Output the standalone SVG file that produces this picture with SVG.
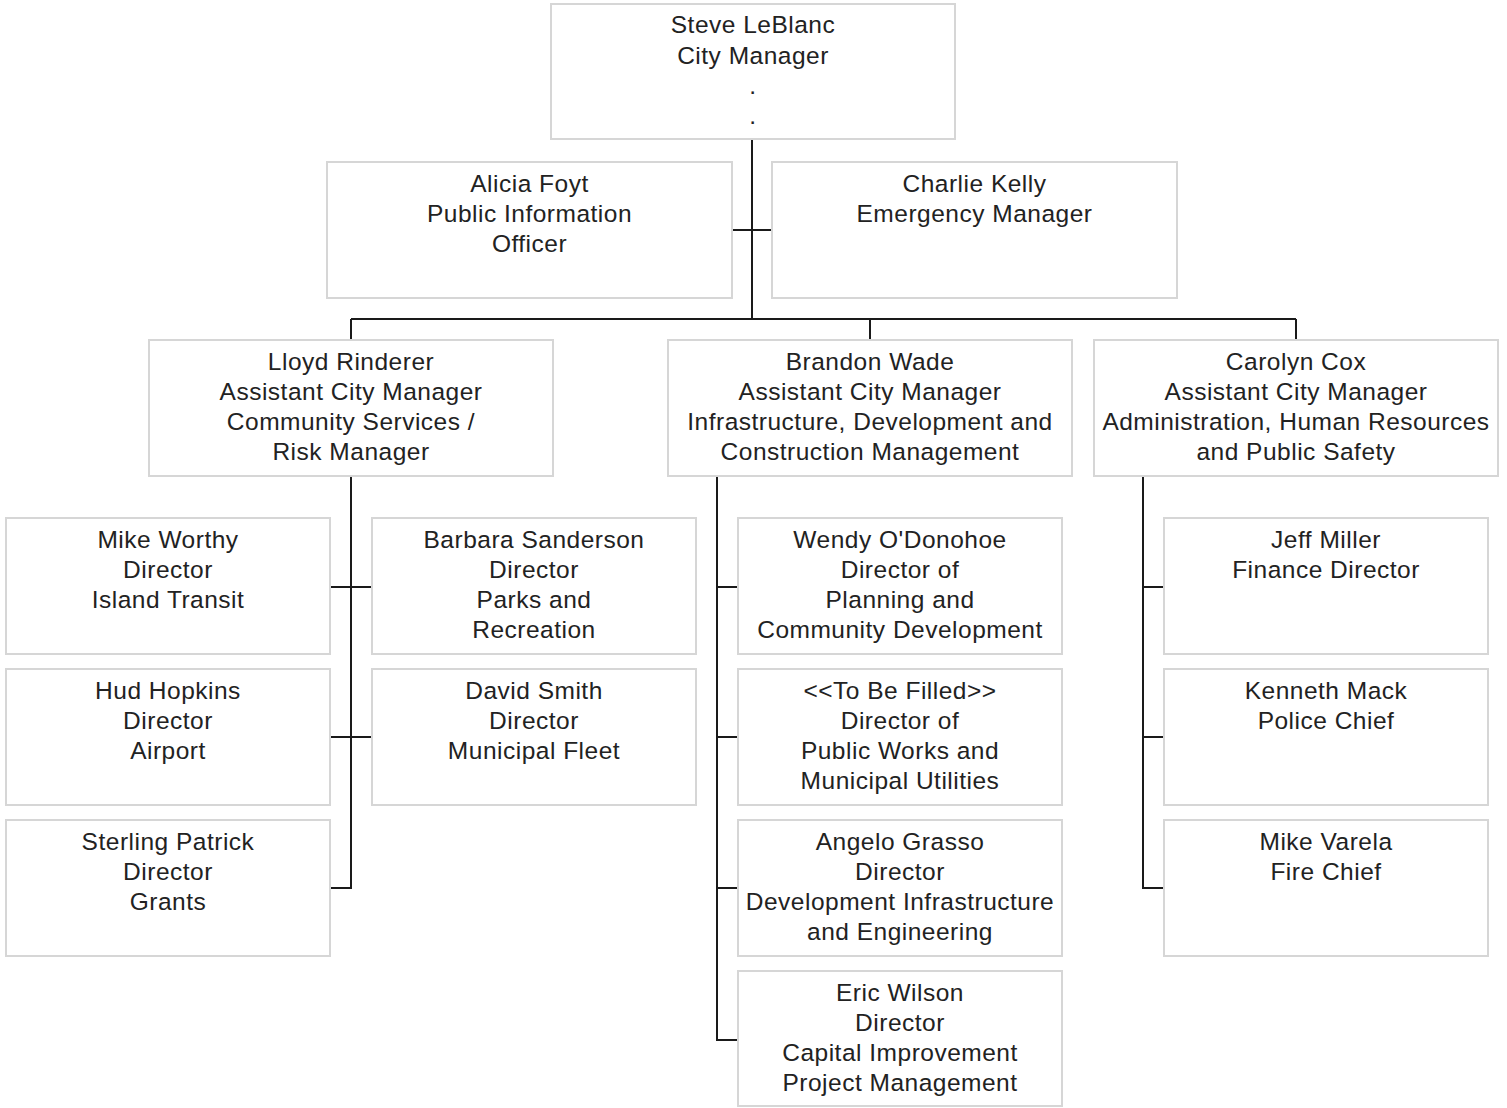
<svg xmlns="http://www.w3.org/2000/svg" width="1507" height="1108" viewBox="0 0 1507 1108">
<style>
.box{fill:#fff;stroke:#d6d6d6;stroke-width:2}
.t{font-family:"Liberation Sans",Arial,sans-serif;font-size:24.5px;letter-spacing:0.5px;fill:#222;text-anchor:middle}
.c{fill:none;stroke:#1a1a1a;stroke-width:2}
</style>
<rect width="1507" height="1108" fill="#fff"/>
<g id="connectors">
<path class="c" d="M752 139V319M732 230H772M351 319H1296M351 319V340M870 319V340M1296 319V340"/>
<path class="c" d="M351 476V888H330M330 587H372M330 737H372"/>
<path class="c" d="M717 476V1040H738M717 587H738M717 737H738M717 888H738"/>
<path class="c" d="M1143 476V888H1164M1143 587H1164M1143 737H1164"/>
</g>
<g id="n-leblanc"><rect class="box" x="551" y="4" width="404" height="135"/><text class="t" x="753" y="33">Steve LeBlanc<tspan x="753" dy="31">City Manager</tspan><tspan x="753" dy="30">.</tspan><tspan x="753" dy="30">.</tspan></text></g>
<g id="n-foyt"><rect class="box" x="327" y="162" width="405" height="136"/><text class="t" x="529.5" y="192">Alicia Foyt<tspan x="529.5" dy="30">Public Information</tspan><tspan x="529.5" dy="30">Officer</tspan></text></g>
<g id="n-kelly"><rect class="box" x="772" y="162" width="405" height="136"/><text class="t" x="974.5" y="192">Charlie Kelly<tspan x="974.5" dy="30">Emergency Manager</tspan></text></g>
<g id="n-rinderer"><rect class="box" x="149" y="340" width="404" height="136"/><text class="t" x="351" y="370">Lloyd Rinderer<tspan x="351" dy="30">Assistant City Manager</tspan><tspan x="351" dy="30">Community Services /</tspan><tspan x="351" dy="30">Risk Manager</tspan></text></g>
<g id="n-wade"><rect class="box" x="668" y="340" width="404" height="136"/><text class="t" x="870" y="370">Brandon Wade<tspan x="870" dy="30">Assistant City Manager</tspan><tspan x="870" dy="30">Infrastructure, Development and</tspan><tspan x="870" dy="30">Construction Management</tspan></text></g>
<g id="n-cox"><rect class="box" x="1094" y="340" width="404" height="136"/><text class="t" x="1296" y="370">Carolyn Cox<tspan x="1296" dy="30">Assistant City Manager</tspan><tspan x="1296" dy="30">Administration, Human Resources</tspan><tspan x="1296" dy="30">and Public Safety</tspan></text></g>
<g id="n-worthy"><rect class="box" x="6" y="518" width="324" height="136"/><text class="t" x="168" y="548">Mike Worthy<tspan x="168" dy="30">Director</tspan><tspan x="168" dy="30">Island Transit</tspan></text></g>
<g id="n-sanderson"><rect class="box" x="372" y="518" width="324" height="136"/><text class="t" x="534" y="548">Barbara Sanderson<tspan x="534" dy="30">Director</tspan><tspan x="534" dy="30">Parks and</tspan><tspan x="534" dy="30">Recreation</tspan></text></g>
<g id="n-hopkins"><rect class="box" x="6" y="669" width="324" height="136"/><text class="t" x="168" y="699">Hud Hopkins<tspan x="168" dy="30">Director</tspan><tspan x="168" dy="30">Airport</tspan></text></g>
<g id="n-smith"><rect class="box" x="372" y="669" width="324" height="136"/><text class="t" x="534" y="699">David Smith<tspan x="534" dy="30">Director</tspan><tspan x="534" dy="30">Municipal Fleet</tspan></text></g>
<g id="n-patrick"><rect class="box" x="6" y="820" width="324" height="136"/><text class="t" x="168" y="850">Sterling Patrick<tspan x="168" dy="30">Director</tspan><tspan x="168" dy="30">Grants</tspan></text></g>
<g id="n-odonohoe"><rect class="box" x="738" y="518" width="324" height="136"/><text class="t" x="900" y="548">Wendy O'Donohoe<tspan x="900" dy="30">Director of</tspan><tspan x="900" dy="30">Planning and</tspan><tspan x="900" dy="30">Community Development</tspan></text></g>
<g id="n-tbf"><rect class="box" x="738" y="669" width="324" height="136"/><text class="t" x="900" y="699">&lt;&lt;To Be Filled&gt;&gt;<tspan x="900" dy="30">Director of</tspan><tspan x="900" dy="30">Public Works and</tspan><tspan x="900" dy="30">Municipal Utilities</tspan></text></g>
<g id="n-grasso"><rect class="box" x="738" y="820" width="324" height="136"/><text class="t" x="900" y="850">Angelo Grasso<tspan x="900" dy="30">Director</tspan><tspan x="900" dy="30">Development Infrastructure</tspan><tspan x="900" dy="30">and Engineering</tspan></text></g>
<g id="n-wilson"><rect class="box" x="738" y="971" width="324" height="135"/><text class="t" x="900" y="1001">Eric Wilson<tspan x="900" dy="30">Director</tspan><tspan x="900" dy="30">Capital Improvement</tspan><tspan x="900" dy="30">Project Management</tspan></text></g>
<g id="n-miller"><rect class="box" x="1164" y="518" width="324" height="136"/><text class="t" x="1326" y="548">Jeff Miller<tspan x="1326" dy="30">Finance Director</tspan></text></g>
<g id="n-mack"><rect class="box" x="1164" y="669" width="324" height="136"/><text class="t" x="1326" y="699">Kenneth Mack<tspan x="1326" dy="30">Police Chief</tspan></text></g>
<g id="n-varela"><rect class="box" x="1164" y="820" width="324" height="136"/><text class="t" x="1326" y="850">Mike Varela<tspan x="1326" dy="30">Fire Chief</tspan></text></g>
</svg>
